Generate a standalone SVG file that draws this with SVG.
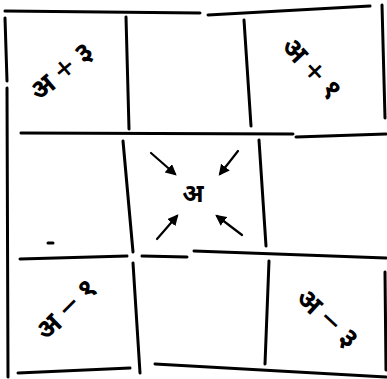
<svg xmlns="http://www.w3.org/2000/svg" width="387" height="379" viewBox="0 0 387 379">
<style>
.ln{stroke:#000;stroke-width:3;stroke-linecap:round;fill:none}
.ar{stroke:#000;stroke-width:2.2;stroke-linecap:round;fill:none;marker-end:url(#ah)}
.lb{font-family:"Noto Sans Devanagari","Lohit Devanagari","Noto Sans",sans-serif;font-size:28px;font-weight:bold;fill:#000;text-anchor:middle;dominant-baseline:central}
.c{font-size:25px}
.op{font-size:36px;font-weight:normal}
</style>
<defs>
<marker id="ah" viewBox="0 0 10 10" refX="8" refY="5" markerWidth="5" markerHeight="5" orient="auto" markerUnits="strokeWidth">
<path d="M0,0 L10,5 L0,10 Z" fill="#000"/>
</marker>
</defs>
<g id="connectors">
<line class="ln" x1="5" y1="11" x2="200" y2="13"/>
<line class="ln" x1="208" y1="15" x2="370" y2="6"/>
<line class="ln" x1="382" y1="5" x2="385" y2="118"/>
<line class="ln" x1="5" y1="18" x2="7" y2="81"/>
<line class="ln" x1="7" y1="88" x2="8" y2="377"/>
<line class="ln" x1="126" y1="17" x2="129" y2="129"/>
<line class="ln" x1="244" y1="20" x2="251" y2="126"/>
<line class="ln" x1="21" y1="133" x2="293" y2="134"/>
<line class="ln" x1="296" y1="137" x2="386" y2="134"/>
<line class="ln" x1="123" y1="141" x2="133" y2="252"/>
<line class="ln" x1="259" y1="140" x2="266" y2="246"/>
<line class="ln" x1="48" y1="243" x2="53" y2="243"/>
<line class="ln" x1="20" y1="259" x2="127" y2="256"/>
<line class="ln" x1="142" y1="256" x2="187" y2="257"/>
<line class="ln" x1="194" y1="251" x2="386" y2="258"/>
<line class="ln" x1="133" y1="263" x2="140" y2="373"/>
<line class="ln" x1="269" y1="261" x2="265" y2="364"/>
<line class="ln" x1="385" y1="272" x2="386" y2="370"/>
<line class="ln" x1="18" y1="373" x2="130" y2="368"/>
<line class="ln" x1="155" y1="364" x2="386" y2="377"/>
<line class="ar" x1="151" y1="153" x2="175" y2="174"/>
<line class="ar" x1="238" y1="151" x2="220" y2="174"/>
<line class="ar" x1="157" y1="239" x2="177" y2="216"/>
<line class="ar" x1="242" y1="235" x2="217" y2="216"/>
</g>
<g id="n-tl"><text class="lb" transform="translate(63,73) rotate(-40)">अ <tspan class="op">+</tspan> ३</text></g>
<g id="n-tr"><text class="lb" transform="translate(310,70) rotate(47)">अ <tspan class="op">+</tspan> १</text></g>
<g id="n-c"><text class="lb c" x="193" y="196">अ</text></g>
<g id="n-bl"><text class="lb" transform="translate(68,311) rotate(-45)">अ <tspan class="op">−</tspan> १</text></g>
<g id="n-br"><text class="lb" transform="translate(326,320) rotate(43)">अ <tspan class="op">−</tspan> ३</text></g>
</svg>
